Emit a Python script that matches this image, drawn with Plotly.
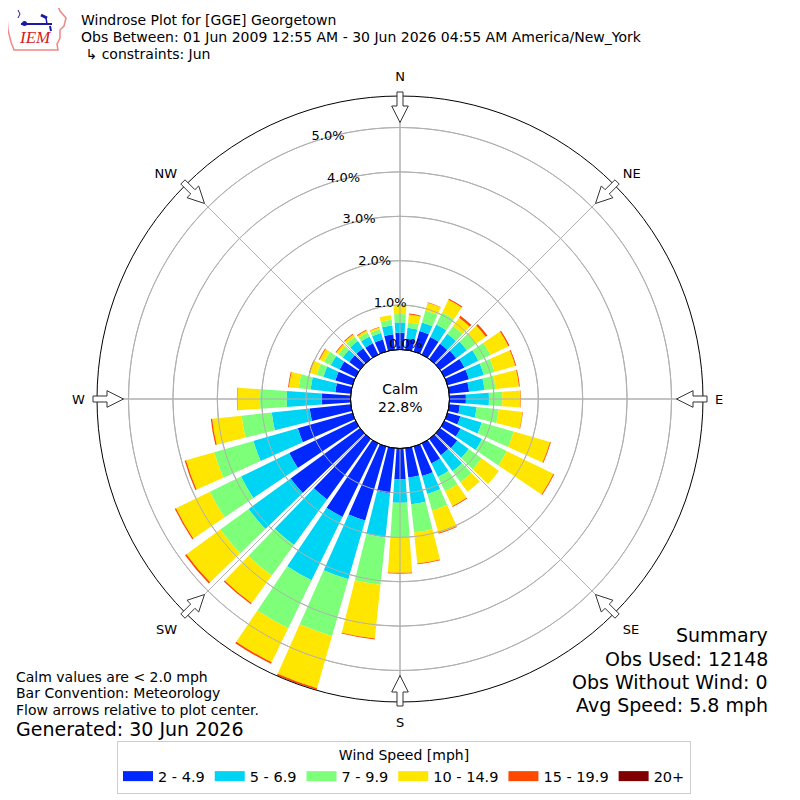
import math
import plotly.graph_objects as go

# wind direction bins (deg, meteorological) and percent of obs per speed class
directions = list(range(0, 360, 10))
speed_bins = ["2 - 4.9", "5 - 6.9", "7 - 9.9", "10 - 14.9", "15 - 19.9", "20+"]
bin_colors = ["#0028ff", "#00d4f5", "#7dff7a", "#ffe600", "#ff4800", "#800000"]

pct_2_5 = [0.38, 0.25, 0.48, 0.44, 0.42, 0.45, 0.50, 0.50, 0.45, 0.37, 0.24, 0.30,
           0.40, 0.48, 0.45, 0.50, 0.69, 0.66, 0.69, 1.02, 1.73, 1.84, 1.68, 1.93,
           1.66, 1.28, 0.93, 0.65, 0.35, 0.40, 0.40, 0.30, 0.30, 0.28, 0.28, 0.35]
pct_5_7 = [0.23, 0.25, 0.20, 0.31, 0.28, 0.30, 0.35, 0.35, 0.35, 0.52, 0.38, 0.50,
           0.54, 0.32, 0.45, 0.34, 0.42, 0.61, 0.53, 1.00, 1.38, 1.59, 1.27, 1.17,
           1.21, 1.04, 0.86, 0.79, 0.56, 0.28, 0.22, 0.18, 0.20, 0.17, 0.15, 0.20]
pct_7_10 = [0.19, 0.12, 0.28, 0.30, 0.22, 0.25, 0.30, 0.25, 0.25, 0.30, 0.50, 0.75,
            0.62, 0.36, 0.30, 0.36, 0.39, 0.64, 0.79, 1.07, 1.33, 1.20, 0.85, 0.79,
            0.78, 0.92, 0.68, 0.60, 0.27, 0.16, 0.17, 0.12, 0.12, 0.10, 0.09, 0.13]
pct_10_15 = [0.18, 0.18, 0.18, 0.32, 0.23, 0.27, 0.45, 0.49, 0.53, 0.41, 0.54, 0.85,
             1.17, 0.48, 0.27, 0.37, 0.52, 0.70, 0.79, 1.22, 1.22, 0.85, 0.77, 0.94,
             0.85, 0.66, 0.67, 0.51, 0.22, 0.16, 0.11, 0.06, 0.06, 0.05, 0.04, 0.10]
pct_15_20 = [0.00, 0.02, 0.01, 0.03, 0.05, 0.05, 0.03, 0.02, 0.02, 0.01, 0.01, 0.02,
             0.02, 0.00, 0.00, 0.02, 0.02, 0.02, 0.02, 0.02, 0.04, 0.04, 0.03, 0.04,
             0.03, 0.03, 0.03, 0.01, 0.02, 0.02, 0.02, 0.02, 0.02, 0.02, 0.01, 0.00]
pct_20_up = [0.0] * 36

calm_pct = 22.8
radial_ticks = [0, 1, 2, 3, 4, 5]
compass_deg = [0, 45, 90, 135, 180, 225, 270, 315]
compass_txt = ["N", "NE", "E", "SE", "S", "SW", "W", "NW"]

# geometry in screenshot pixels; page body has an 8px margin
OFF = 8
W = H = 792
CX, CY, R = 400, 399, 303
HOLE_PX = 49.5
RMAX = 5.71
GRID = "#b0b0b0"


def paper(x, y):
    return (x - OFF) / W, 1 - (y - OFF) / H


def pxpath(pts, close=True):
    s = "M " + " L ".join("%.5f,%.5f" % paper(x, y) for x, y in pts)
    return s + (" Z" if close else "")


fig = go.Figure()
series = [pct_2_5, pct_5_7, pct_7_10, pct_10_15, pct_15_20, pct_20_up]
for name, vals, col in zip(speed_bins, series, bin_colors):
    fig.add_trace(go.Barpolar(
        r=vals, theta=directions, width=[8] * len(directions), name=name,
        marker=dict(color=col, line=dict(width=0)), showlegend=False,
    ))

# grid drawn over the bars, like the matplotlib original
ring_theta = list(range(0, 361, 2))
for v in radial_ticks[1:]:
    fig.add_trace(go.Scatterpolar(r=[v] * len(ring_theta), theta=ring_theta,
                                  mode="lines", line=dict(color=GRID, width=1),
                                  showlegend=False, hoverinfo="skip"))
for a in compass_deg:
    fig.add_trace(go.Scatterpolar(r=[0, RMAX], theta=[a, a], mode="lines",
                                  line=dict(color=GRID, width=1),
                                  showlegend=False, hoverinfo="skip"))

# legend entries with wide swatches
for name, col in zip(speed_bins, bin_colors):
    fig.add_trace(go.Scatterpolar(r=[None], theta=[None], mode="lines", name=name,
                                  line=dict(color=col, width=12)))

# inward flow arrows at compass points
shapes = []
for a in compass_deg:
    t = math.radians(a)
    ux, uy = math.sin(t), -math.cos(t)
    px, py = math.cos(t), math.sin(t)
    pts = [(CX + ux * r + px * w, CY + uy * r + py * w) for r, w in
           [(276.5, 0), (293, 8.3), (293, 3), (307, 3), (307, -3), (293, -3), (293, -8.3)]]
    shapes.append(dict(type="path", path=pxpath(pts), xref="paper", yref="paper",
                       line=dict(color="#333333", width=1), fillcolor="white",
                       layer="above"))

# calm hole outline
x0, y0 = paper(CX - HOLE_PX, CY + HOLE_PX)
x1, y1 = paper(CX + HOLE_PX, CY - HOLE_PX)
shapes.append(dict(type="circle", xref="paper", yref="paper", x0=x0, y0=y0,
                   x1=x1, y1=y1, line=dict(color="black", width=1),
                   layer="above"))

# rough IEM logo (state outline + station symbol)
logo = [(6, 6), (58, 6), (60, 11), (66, 18), (64, 26), (60, 30), (60, 38),
        (57, 44), (58, 50), (14, 50), (11, 42), (8, 30), (7, 18)]
shapes.append(dict(type="path", path=pxpath(logo), xref="paper", yref="paper",
                   line=dict(color="#ee8888", width=1.5), fillcolor="white"))
for seg, wd in [([(21, 24), (52, 24)], 2), ([(41, 15), (47, 18)], 3),
                ([(46, 18), (47, 24)], 1.5), ([(50, 26), (51, 31)], 2),
                ([(18, 10), (20, 14), (18, 18)], 1)]:
    shapes.append(dict(type="path", path=pxpath(seg, close=False), xref="paper",
                       yref="paper", line=dict(color="#1a1aa8", width=wd)))
cx0, cy0 = paper(22, 26)
cx1, cy1 = paper(27, 21)
shapes.append(dict(type="circle", xref="paper", yref="paper", x0=cx0, y0=cy0,
                   x1=cx1, y1=cy1, fillcolor="#1a1aa8", line=dict(width=0)))

annotations = []


def note(x, y, text, size=14, anchor="left", color="black", family=None):
    px_, py_ = paper(x, y)
    f = dict(size=size, color=color)
    if family:
        f["family"] = family
    annotations.append(dict(x=px_, y=py_, xref="paper", yref="paper", text=text,
                            showarrow=False, xanchor=anchor, yanchor="middle",
                            font=f))


note(79, 20, "Windrose Plot for [GGE] Georgetown")
note(79, 37, "Obs Between: 01 Jun 2009 12:55 AM - 30 Jun 2026 04:55 AM America/New_York")
note(79, 54, " ↳ constraints: Jun")
note(35, 38, "<i>IEM</i>", size=17, anchor="center", color="#d42020",
     family="Liberation Serif")
note(400, 398, f"Calm<br>{calm_pct}%", size=14, anchor="center")

note(14, 677, "Calm values are &lt; 2.0 mph")
note(14, 693, "Bar Convention: Meteorology")
note(14, 710, "Flow arrows relative to plot center.")
note(14, 729, "Generated: 30 Jun 2026", size=19)

note(770, 635, "Summary", size=19, anchor="right")
note(770, 659, "Obs Used: 12148", size=19, anchor="right")
note(770, 682, "Obs Without Wind: 0", size=19, anchor="right")
note(770, 705, "Avg Speed: 5.8 mph", size=19, anchor="right")

dx0, dy0 = paper(CX - R, CY + R)
dx1, dy1 = paper(CX + R, CY - R)

fig.update_layout(
    width=W, height=H,
    margin=dict(l=0, r=0, t=0, b=0),
    paper_bgcolor="white",
    font=dict(family="DejaVu Sans", size=13, color="black"),
    shapes=shapes,
    annotations=annotations,
    polar=dict(
        domain=dict(x=[dx0, dx1], y=[dy0, dy1]),
        hole=HOLE_PX / R,
        bgcolor="white",
        barmode="stack",
        radialaxis=dict(
            range=[0, RMAX], tickvals=radial_ticks,
            # blank second line lifts each label just above its ring
            ticktext=[f"{v:.1f}%<br> " for v in radial_ticks],
            showline=False, ticks="", angle=110.5, tickangle=110.5,
            side="clockwise", gridcolor=GRID, gridwidth=1,
            layer="above traces", tickfont=dict(size=13),
        ),
        angularaxis=dict(
            direction="clockwise", rotation=90,
            tickmode="array", tickvals=compass_deg, ticktext=compass_txt,
            showline=True, linecolor="black", linewidth=1,
            gridcolor=GRID, gridwidth=1,
            ticks="outside", ticklen=9, tickcolor="rgba(0,0,0,0)",
            tickfont=dict(size=13),
        ),
    ),
    legend=dict(
        orientation="h", x=0.5, xanchor="center", y=paper(0, 741)[1], yanchor="top",
        title=dict(text="Wind Speed [mph]", side="top center", font=dict(size=14)),
        bordercolor="#cccccc", borderwidth=1, bgcolor="white",
        font=dict(size=14.5), itemwidth=30,
    ),
)

fig.write_html("out.html")
